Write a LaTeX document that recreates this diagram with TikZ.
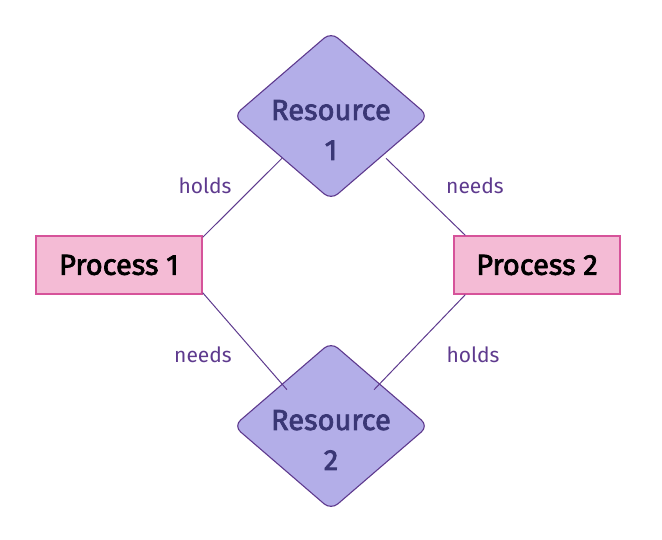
\documentclass[tikz,border=0pt]{standalone}
\usepackage{fontspec}
\setmainfont{Fira Sans}
\newfontfamily\medfont[FakeBold=2.5]{Fira Sans}
\usetikzlibrary{shapes.geometric}
\definecolor{resfill}{HTML}{B3AEE8}
\definecolor{resdraw}{HTML}{5E3A8E}
\definecolor{restext}{HTML}{3A3775}
\definecolor{procfill}{HTML}{F4BBD5}
\definecolor{procdraw}{HTML}{D6539A}
\definecolor{edgecol}{HTML}{5E3A8E}
\tikzset{
  resbox/.style={diamond, fill=resfill, draw=resdraw, line width=1.1pt, rounded corners=9pt,
    minimum width=195pt, minimum height=168pt, inner sep=0pt},
  restxt/.style={align=center, text=restext, font=\medfont\fontsize{29}{40}\selectfont},
  procbox/.style={rectangle, fill=procfill, draw=procdraw, line width=1.3pt,
    minimum width=166pt, minimum height=58pt, inner sep=0pt, text=black,
    font=\medfont\fontsize{29}{34}\selectfont},
  conn/.style={draw=edgecol, line width=1pt},
  lbl/.style={text=edgecol, font=\fontsize{21}{24}\selectfont}
}
\begin{document}
\begin{tikzpicture}[x=1pt,y=-1pt]
\useasboundingbox (0,0) rectangle (662,540);
\node[resbox] (r1) at (331,116) {};
\node[restxt] (t1) at (331,130) {Resource\\1};
\node[resbox] (r2) at (331,426) {};
\node[restxt] (t2) at (331,440) {Resource\\2};
\node[procbox] (p1) at (119,265) {Process 1};
\node[procbox] (p2) at (537,265) {Process 2};
\draw[conn] ([yshift=-2pt]p1.north east) -- (r1.south west);
\draw[conn] ([xshift=6pt]r1.south east) -- ([xshift=12pt]p2.north west);
\draw[conn] ([yshift=2pt]p1.south east) -- ([xshift=5pt,yshift=-6pt]r2.north west);
\draw[conn] ([xshift=12pt]p2.south west) -- ([xshift=-6pt,yshift=-6pt]r2.north east);
\node[lbl] (l1) at (205,186) {holds};
\node[lbl] (l2) at (475,186) {needs};
\node[lbl] (l3) at (203,355) {needs};
\node[lbl] (l4) at (473,355) {holds};
\end{tikzpicture}
\end{document}
